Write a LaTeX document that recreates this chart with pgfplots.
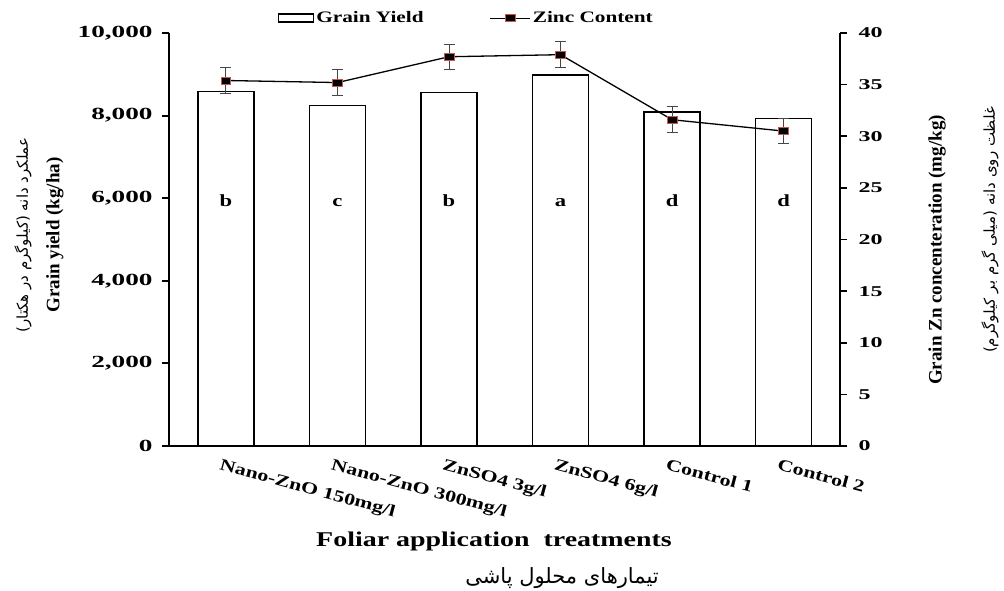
\documentclass[border=0pt]{standalone}
\usepackage{fontspec}
\usepackage{pgfplots}
\pgfplotsset{compat=1.18}
\setmainfont{Liberation Serif}[FakeStretch=1.33]
\newfontfamily\tickfont{Liberation Serif}[FakeStretch=1.6]
\newfontfamily\rotfont{Liberation Serif}
\newfontfamily\arabicfont[Script=Arabic]{DejaVu Sans}
\newfontfamily\parfont{DejaVu Sans}
\TeXXeTstate=1
\definecolor{zred}{RGB}{200,85,80}
\definecolor{ebar}{RGB}{70,70,70}

\begin{document}
\begin{tikzpicture}[x=1pt,y=1pt]
\begin{axis}[
    width=671pt, height=413pt, scale only axis,
    xmin=-0.51, xmax=5.505,
    ymin=0, ymax=10000,
    scaled y ticks=false,
    ybar, bar width=56pt,
    axis x line*=bottom, axis y line*=left,
    axis line style={line width=2.6pt},
    tick align=outside, major tick length=7pt,
    ytick={0,2000,...,10000},
    yticklabels={0,{2,000},{4,000},{6,000},{8,000},{10,000}},
    ytick style={line width=2pt, black},
    yticklabel style={font=\tickfont\fontsize{17}{19}\selectfont\bfseries, xshift=-6pt},
    xtick={0,...,5},
    xtick style={draw=none},
    xticklabels={Nano-ZnO 150mg/l, Nano-ZnO 300mg/l, ZnSO4 3g/l, ZnSO4 6g/l, Control 1, Control 2},
    xticklabel style={rotate=-15, anchor=north west, font=\fontsize{16.5}{18}\selectfont\bfseries, xshift=-6pt, yshift=-3pt},
    legend style={at={(0.443,1.036)}, anchor=center, draw=none, fill=none,
        legend columns=2, font=\fontsize{16}{18}\selectfont\bfseries,
        /tikz/every even column/.append style={column sep=64pt}},
]
\addplot[fill=white, draw=black, line width=1.4pt,
    legend image code/.code={\draw[line width=1.6pt, fill=white] (0pt,-4pt) rectangle (35pt,4pt);}]
    coordinates {(0,8580) (1,8240) (2,8555) (3,8980) (4,8085) (5,7925)};
\addlegendentry{Grain Yield}
\addlegendimage{legend image code/.code={
    \draw[black, line width=1.2pt] (0pt,0pt) -- (40pt,0pt);
    \node[draw=zred, fill=black, line width=0.8pt, minimum width=10pt, minimum height=7pt, inner sep=0pt] at (20pt,0pt) {};}}
\addlegendentry{Zinc Content}
\node[font=\fontsize{17}{19}\selectfont\bfseries, anchor=base] at (axis cs:0,5800) {b};
\node[font=\fontsize{17}{19}\selectfont\bfseries, anchor=base] at (axis cs:1,5800) {c};
\node[font=\fontsize{17}{19}\selectfont\bfseries, anchor=base] at (axis cs:2,5800) {b};
\node[font=\fontsize{17}{19}\selectfont\bfseries, anchor=base] at (axis cs:3,5800) {a};
\node[font=\fontsize{17}{19}\selectfont\bfseries, anchor=base] at (axis cs:4,5800) {d};
\node[font=\fontsize{17}{19}\selectfont\bfseries, anchor=base] at (axis cs:5,5800) {d};
\end{axis}
\begin{axis}[
    width=671pt, height=413pt, scale only axis,
    xmin=-0.51, xmax=5.505,
    ymin=0, ymax=40,
    axis y line*=right, axis x line=none,
    axis line style={line width=2pt},
    tick align=outside, major tick length=7pt,
    ytick={0,5,...,40},
    ytick style={line width=1.6pt, black},
    yticklabel style={font=\tickfont\fontsize{15}{17}\selectfont\bfseries, xshift=8pt},
    /pgf/number format/assume math mode=true,
]
\addplot[black, line width=1.3pt, mark=square*, mark size=3.5pt,
    mark options={draw=zred, fill=black, line width=0.8pt, xscale=1.4, solid},
    error bars/.cd, y dir=both, y explicit, error mark=|,
    error bar style={line width=1pt, draw=ebar},
    error mark options={mark size=5.5pt, line width=1pt, draw=ebar}]
    coordinates {(0,35.4) +- (0,1.25) (1,35.2) +- (0,1.25) (2,37.7) +- (0,1.2)
                 (3,37.9) +- (0,1.25) (4,31.6) +- (0,1.25) (5,30.5) +- (0,1.25)};
\end{axis}
\node[rotate=90, font=\arabicfont\fontsize{15}{17}\selectfont] at (-146,211)
    {\beginR عملکرد دانه {\parfont)}کیلوگرم در هکتار{\parfont(}\endR};
\node[rotate=90, font=\rotfont\fontsize{19}{21}\selectfont\bfseries] at (-114,211) {Grain yield (kg/ha)};
\node[rotate=90, font=\rotfont\fontsize{19}{21}\selectfont\bfseries] at (768,196) {Grain Zn concenteration (mg/kg)};
\node[rotate=90, font=\arabicfont\fontsize{15}{17}\selectfont] at (821,216)
    {\beginR غلظت روی دانه {\parfont)}میلی گرم بر کیلوگرم{\parfont(}\endR};
\node[font=\fontsize{21}{23}\selectfont\bfseries] at (325,-95) {Foliar application\ \ treatments};
\node[font=\arabicfont\fontsize{21}{23}\selectfont] at (393,-132) {\beginR تیمارهای محلول پاشی\endR};
\pgfresetboundingbox
\useasboundingbox (-169,-145) rectangle (835,446);
\end{tikzpicture}
\end{document}
